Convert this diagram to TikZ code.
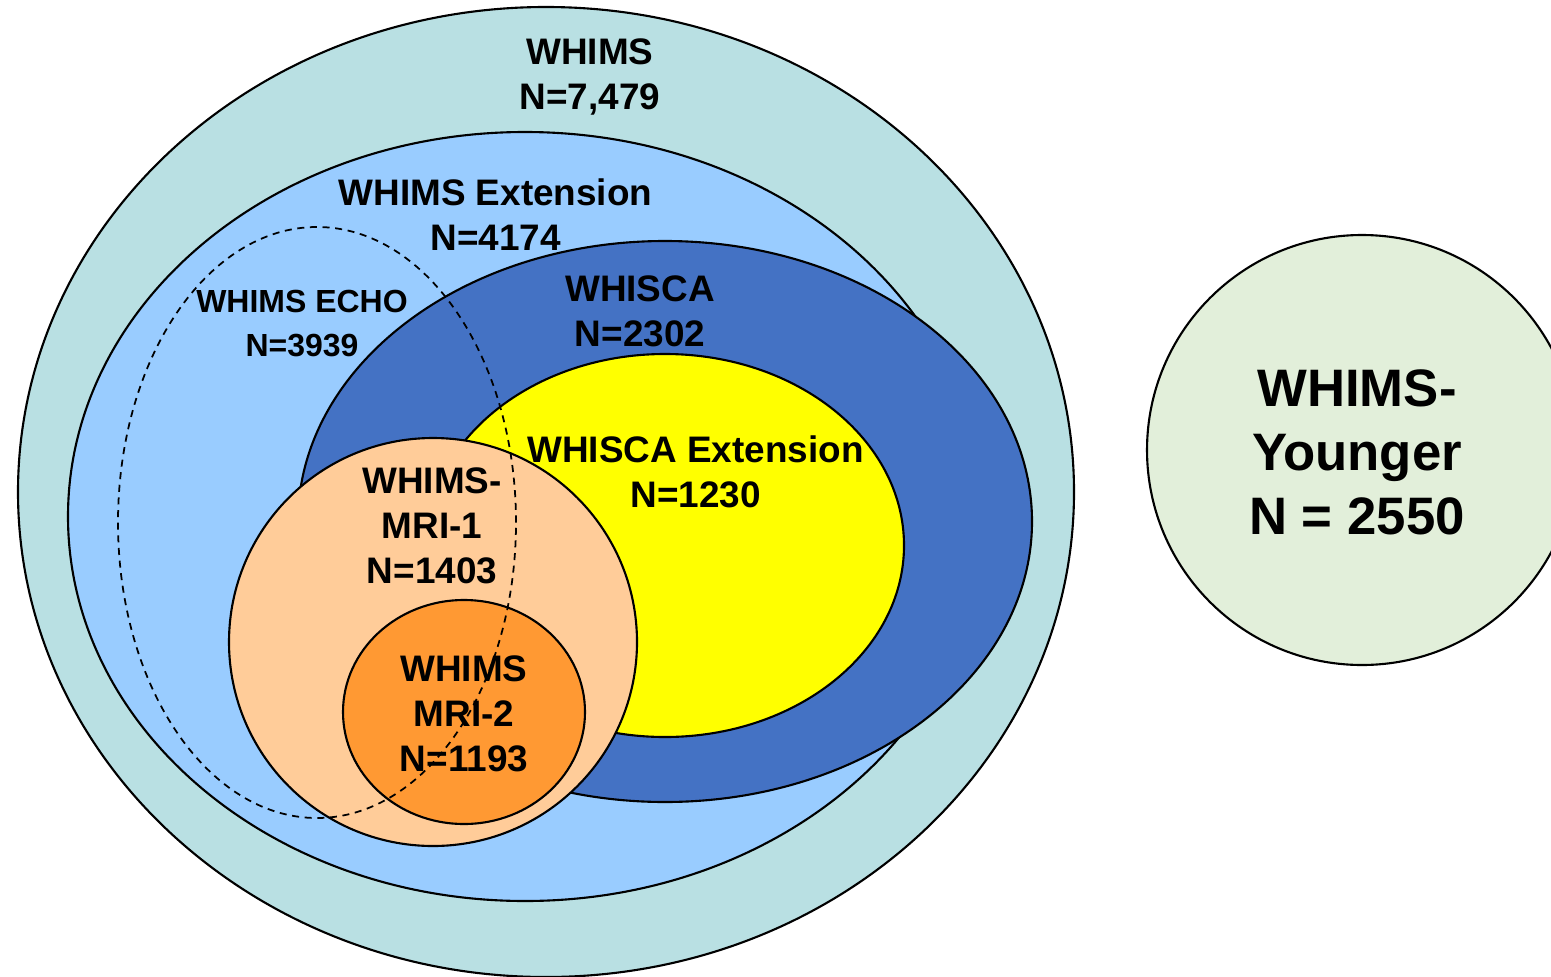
\documentclass[tikz,border=0pt]{standalone}
\usepackage{fontspec}
\setmainfont{Liberation Sans}
\usetikzlibrary{positioning}
\definecolor{WhiFill}{HTML}{B9E0E3}
\definecolor{ExtFill}{HTML}{99CCFF}
\definecolor{ScaFill}{HTML}{4472C4}
\definecolor{SexFill}{HTML}{FFFF00}
\definecolor{MonFill}{HTML}{FFCC99}
\definecolor{MtwFill}{HTML}{FF9933}
\definecolor{YngFill}{HTML}{E2EFDA}
\tikzset{
  venn/.style={draw=black, line width=0.6pt, fill=#1},
  echo/.style={draw=black, line width=0.5pt, dash pattern=on 2pt off 1.6pt},
  lbl/.style={align=center, inner sep=0pt, font=\fontsize{10.5}{12.8}\selectfont\bfseries},
  lbls/.style={lbl, font=\fontsize{9.1}{12.5}\selectfont\bfseries},
  lblb/.style={lbl, font=\fontsize{15}{18.2}\selectfont\bfseries},
}

\begin{document}
\begin{tikzpicture}[x=1cm,y=1cm]
\useasboundingbox (0,0) rectangle (15.51,-9.76);
\clip (0,0) rectangle (15.51,-9.76);

% ---------------- nested sets ----------------------------------------------------------------
\foreach \c/\x/\y/\a/\b in {WhiFill/5.46/-4.92/5.28/4.85, ExtFill/5.25/-5.165/4.57/3.845,
  ScaFill/6.65/-5.215/3.67/2.805, SexFill/6.65/-5.455/2.39/1.915,
  MonFill/4.33/-6.42/2.04/2.04, MtwFill/4.64/-7.12/1.21/1.12}{
  \draw[venn=\c] (\x,\y) ellipse [x radius=\a, y radius=\b];
}
\draw[echo] (3.17,-5.225) ellipse [x radius=1.99, y radius=2.955];

% ---------------- separate cohort ------------------------------------------------------------
\draw[venn=YngFill] (13.62,-4.50) circle [radius=2.15];

% ---------------- labels ---------------------------------------------------------------------
\node[lbl] (whi) at (5.90,-0.77) {WHIMS\\N=7,479};
\node[lbl] (ext) at (4.955,-2.15) {WHIMS Extension\\N=4174};
\node[lbls] (ech) at (3.02,-3.235) {WHIMS ECHO\\N=3939};
\node[lbl] (sca) at (6.40,-3.11) {WHISCA\\N=2302};
\node[lbl] (sex) at (6.955,-4.715) {WHISCA Extension\\N=1230};
\node[lbl] (mon) at (4.32,-5.255) {WHIMS-\\MRI-1\\N=1403};
\node[lbl] (mtw) at (4.64,-7.135) {WHIMS\\MRI-2\\N=1193};
\node[lblb] (yng) at (13.57,-4.525) {WHIMS-\\Younger\\N = 2550};

\end{tikzpicture}
\end{document}
